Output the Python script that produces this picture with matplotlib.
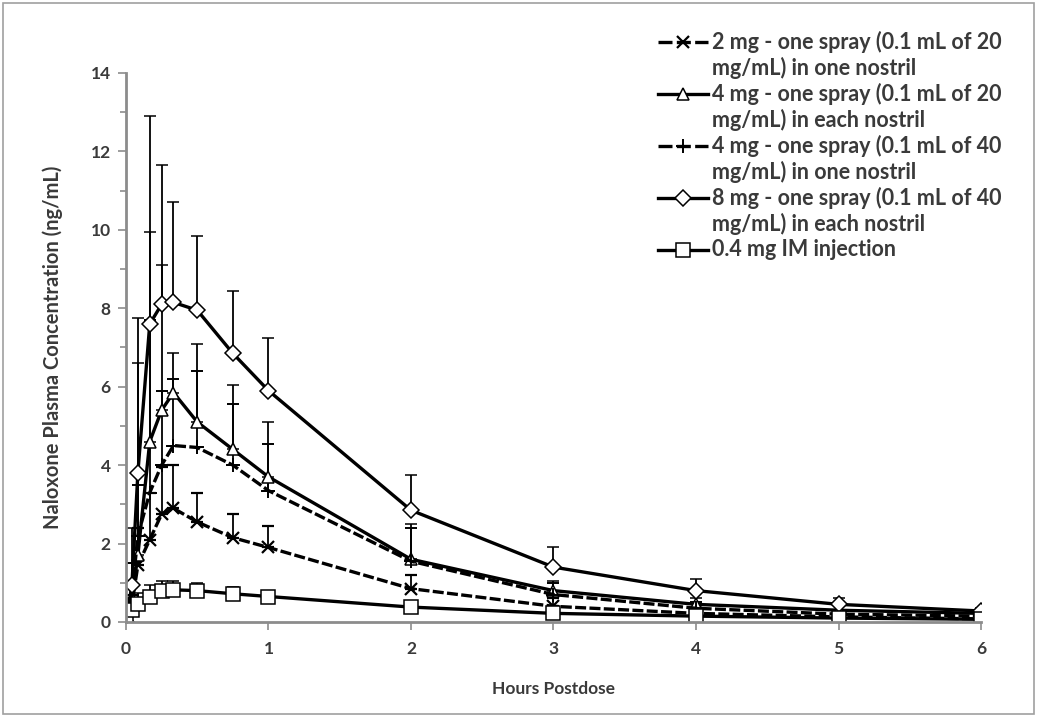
import matplotlib
matplotlib.use('Agg')
import matplotlib.pyplot as plt
from matplotlib.lines import Line2D
from matplotlib.patches import Rectangle
import numpy as np

plt.rcParams['font.family'] = ['Lato', 'DejaVu Sans']
plt.rcParams['font.weight'] = 'bold'

# sampling times (hours)
hours = [0, 0.0417, 0.0833, 0.1667, 0.25, 0.3333, 0.5, 0.75, 1, 2, 3, 4, 5, 6]

# mean concentrations (ng/mL) and top of the error bars
mg2_mean = [0, 0.45, 1.45, 2.1, 2.75, 2.9, 2.55, 2.15, 1.9, 0.85, 0.4, 0.22, 0.13, 0.08]
mg2_top = [0, 0.9, 2.4, 3.3, 3.95, 4.0, 3.3, 2.75, 2.45, 1.2, 0.6, 0.32, 0.2, 0.13]

mg4each_mean = [0, 0.6, 1.7, 4.6, 5.4, 5.85, 5.1, 4.4, 3.7, 1.6, 0.8, 0.45, 0.3, 0.22]
mg4each_top = [0, 1.5, 6.6, 9.95, 9.1, 6.85, 7.1, 6.05, 5.1, 2.5, 1.05, 0.6, 0.4, 0.3]

mg4one_mean = [0, 0.7, 2.2, 3.3, 4.0, 4.5, 4.45, 4.0, 3.35, 1.55, 0.7, 0.35, 0.2, 0.15]
mg4one_top = [0, 1.5, 3.5, 7.7, 5.9, 6.2, 6.4, 5.55, 4.55, 2.4, 1.0, 0.5, 0.3, 0.2]

mg8_mean = [0, 0.95, 3.8, 7.6, 8.1, 8.15, 7.95, 6.85, 5.9, 2.85, 1.4, 0.8, 0.45, 0.28]
mg8_top = [0, 2.4, 7.75, 12.9, 11.65, 10.7, 9.85, 8.45, 7.25, 3.75, 1.9, 1.1, 0.6, 0.35]

im_mean = [0.05, 0.3, 0.45, 0.65, 0.78, 0.82, 0.8, 0.72, 0.65, 0.38, 0.22, 0.15, 0.1, 0.07]
im_top = [0.1, 0.5, 0.75, 0.95, 1.05, 1.05, 1.0, 0.9, 0.8, 0.5, 0.3, 0.2, 0.14, 0.1]

labels = [
    '2 mg - one spray (0.1 mL of 20\nmg/mL) in one nostril',
    '4 mg - one spray (0.1 mL of 20\nmg/mL) in each nostril',
    '4 mg - one spray (0.1 mL of 40\nmg/mL) in one nostril',
    '8 mg - one spray (0.1 mL of 40\nmg/mL) in each nostril',
    '0.4 mg IM injection',
]

txt = '#3a3a3a'
grey = '#8c8c8c'
W, H = 1037, 717

fig = plt.figure(figsize=(W / 100, H / 100), dpi=100)
ax = fig.add_axes([0.1215, 0.1325, 0.8245, 0.7657])
fig.patches.append(Rectangle((0.003, 0.004), 0.994, 0.992, transform=fig.transFigure,
                             fill=False, edgecolor='#a0a0a0', lw=1.2))

dash = (3.3, 1)
series = [
    (mg2_mean, mg2_top, dict(marker='x', ms=9, mew=1.6), dash),
    (mg4each_mean, mg4each_top, dict(marker='^', ms=8, mew=1.1), None),
    (mg4one_mean, mg4one_top, dict(marker='+', ms=10, mew=1.4), dash),
    (mg8_mean, mg8_top, dict(marker='D', ms=8, mew=1.1), None),
    (im_mean, im_top, dict(marker='s', ms=10, mew=1.1), None),
]

for mean, top, st, ds in series:
    mean = np.array(mean)
    err = np.array(top) - mean
    eb = ax.errorbar(hours, mean, yerr=[np.zeros_like(err), err], color='black',
                     lw=2.4, mfc='white', mec='black', ecolor='black',
                     elinewidth=1.3, capsize=4, capthick=1.3, **st)
    if ds:
        eb[0].set_dashes(ds)

ax.set_xlim(0, 6)
ax.set_ylim(0, 14)
ax.set_xticks(range(0, 7))
ax.set_yticks(range(0, 15, 2))
ax.set_yticks(range(0, 15), minor=True)
for s in ['top', 'right']:
    ax.spines[s].set_visible(False)
for s in ['left', 'bottom']:
    ax.spines[s].set_color(grey)
    ax.spines[s].set_linewidth(2)
ax.tick_params(axis='both', which='both', colors=grey, width=1.2, direction='out')
ax.tick_params(axis='both', which='major', length=6, labelsize=12.5, labelcolor=txt)
ax.tick_params(axis='y', which='major', pad=5)
ax.tick_params(axis='x', which='major', pad=8)
ax.tick_params(axis='y', which='minor', length=4)
ax.set_xlabel('Hours Postdose', fontsize=12.5, fontweight='bold', color=txt, labelpad=17)
ax.set_ylabel('Naloxone Plasma Concentration (ng/mL)', fontsize=14.5, fontweight='bold',
              color=txt, labelpad=20)

# legend drawn by hand: handle on the first text line of each entry
leg_x0, leg_x1, text_x = 658, 708, 712   # pixels from the left
row_y, pitch = 42, 26                    # pixels from the top
row = 0
for (mean, top, st, ds), lab in zip(series, labels):
    y = 1 - (row_y + row * pitch) / H
    ln = Line2D([leg_x0 / W, leg_x1 / W], [y, y], transform=fig.transFigure,
                color='black', lw=2.4)
    if ds:
        ln.set_dashes((4.2, 1.3))
    fig.add_artist(ln)
    fig.add_artist(Line2D([(leg_x0 + leg_x1) / 2 / W], [y], transform=fig.transFigure,
                          linestyle='none', marker=st['marker'], ms=st['ms'],
                          mew=st['mew'], mfc='white', mec='black'))
    for part in lab.split('\n'):
        y = 1 - (row_y + row * pitch) / H
        fig.text(text_x / W, y, part, fontsize=15.5, color=txt, va='center', ha='left')
        row += 1

fig.savefig('out.png', dpi=100)
